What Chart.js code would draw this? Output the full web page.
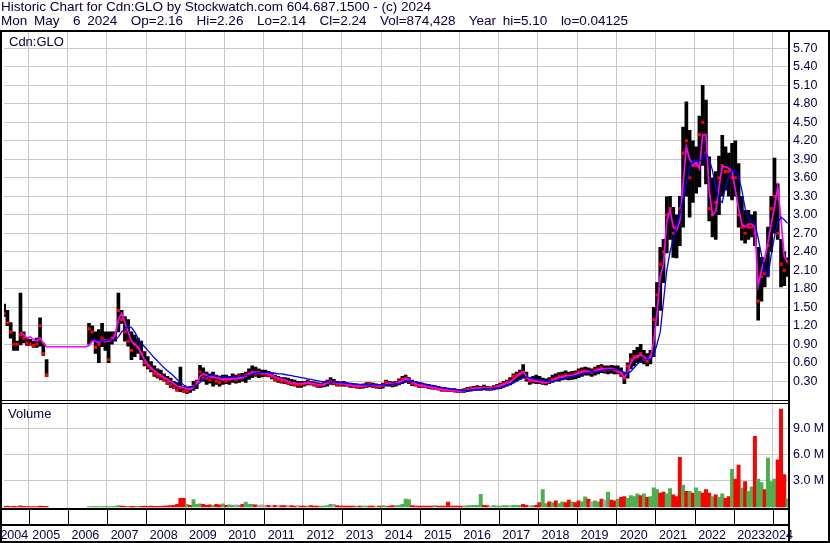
<!DOCTYPE html>
<html><head><meta charset="utf-8">
<script src="https://cdn.jsdelivr.net/npm/chart.js@4.4.1/dist/chart.umd.min.js"></script>
<style>
html,body{margin:0;padding:0;background:#fff;}
#wrap{position:relative;width:830px;height:543px;overflow:hidden;background:#fff;}
canvas{position:absolute;left:0;top:0;}
.t{position:absolute;font-family:"Liberation Sans",Arial,sans-serif;color:#000040;white-space:pre;}
.hdr{left:1px;font-size:13.5px;line-height:14px;}
#h2{word-spacing:3px;}
.lbl{font-size:13px;line-height:15px;}
</style></head><body>
<div id="wrap">
<canvas id="c" width="830" height="543"></canvas>
<div id="h1" class="t hdr" style="top:0px">Historic Chart for Cdn:GLO by Stockwatch.com 604.687.1500 - (c) 2024</div>
<div id="h2" class="t hdr" style="top:14px">Mon May&#160; 6 2024&#160; Op=2.16&#160; Hi=2.26&#160; Lo=2.14&#160; Cl=2.24&#160; Vol=874,428&#160; Year hi=5.10&#160; lo=0.04125</div>
<div class="t lbl" style="left:9px;top:34px">Cdn:GLO</div>
<div class="t lbl" style="left:8px;top:406px">Volume</div>
</div>
<script>
// ---- data (monthly, May 2004 .. May 2024) ----
const yearFirst = 2004, monthFirst = 5;
const yearLabels = ['2004','2005','2006','2007','2008','2009','2010','2011','2012','2013','2014','2015','2016','2017','2018','2019','2020','2021','2022','2023','2024'];
const priceTicks = [0.3,0.6,0.9,1.2,1.5,1.8,2.1,2.4,2.7,3.0,3.3,3.6,3.9,4.2,4.5,4.8,5.1,5.4,5.7];
const volumeTicks = [3,6,9]; // millions

const priceLow = [
 1.35,1.2,1.0,0.8,0.8,0.89,0.92,0.88,
 0.88,0.85,0.85,0.87,0.72,0.38,null,null,null,null,null,null,
 null,null,null,null,null,null,0.9,0.95,0.75,0.6,0.86,0.8,
 0.6,0.9,0.95,1.1,1.24,0.95,0.87,0.65,0.7,0.75,0.65,0.55,
 0.5,0.45,0.38,0.35,0.32,0.3,0.25,0.2,0.18,0.14,0.13,0.12,
 0.1,0.12,0.15,0.18,0.3,0.3,0.25,0.27,0.22,0.25,0.22,0.25,
 0.26,0.25,0.28,0.27,0.28,0.3,0.28,0.33,0.36,0.38,0.36,0.37,
 0.38,0.37,0.34,0.3,0.28,0.27,0.26,0.25,0.23,0.22,0.2,0.2,
 0.22,0.24,0.24,0.22,0.2,0.2,0.21,0.22,0.25,0.24,0.22,0.22,
 0.22,0.22,0.2,0.2,0.19,0.18,0.19,0.2,0.21,0.2,0.19,0.18,
 0.19,0.22,0.22,0.21,0.22,0.24,0.26,0.28,0.26,0.23,0.22,0.2,
 0.2,0.2,0.18,0.17,0.17,0.16,0.14,0.14,0.13,0.13,0.13,0.12,
 0.12,0.12,0.13,0.14,0.15,0.15,0.15,0.16,0.15,0.15,0.16,0.17,
 0.18,0.2,0.22,0.24,0.28,0.3,0.33,0.35,0.3,0.25,0.27,0.26,
 0.26,0.25,0.24,0.26,0.28,0.3,0.3,0.32,0.33,0.32,0.33,0.34,
 0.36,0.38,0.4,0.4,0.38,0.4,0.42,0.44,0.43,0.42,0.43,0.42,
 0.42,0.38,0.26,0.35,0.5,0.55,0.6,0.6,0.58,0.55,0.58,0.7,
 1.2,1.45,1.9,2.38,2.6,2.31,2.3,2.5,2.8,3.3,2.96,3.2,
 3.35,3.45,3.8,3.5,2.9,2.64,2.6,3.0,3.3,3.4,3.3,3.24,
 3.3,2.8,2.59,2.54,2.6,2.64,2.5,1.29,1.6,1.83,2.0,2.4,
 2.7,2.6,1.83,1.85,2.0
];
const priceHigh = [
 1.55,1.45,1.25,1.1,0.95,1.73,1.1,1.0,
 0.98,0.95,1.0,1.33,0.92,0.65,null,null,null,null,null,null,
 null,null,null,null,null,null,1.24,1.2,1.1,1.14,1.24,1.1,
 1.1,1.1,1.1,1.73,1.45,1.35,1.3,1.1,1.05,1.0,0.95,0.78,
 0.7,0.62,0.55,0.5,0.48,0.42,0.38,0.35,0.3,0.28,0.53,0.22,
 0.2,0.22,0.3,0.32,0.56,0.52,0.45,0.42,0.45,0.4,0.36,0.4,
 0.4,0.38,0.42,0.4,0.42,0.43,0.45,0.5,0.55,0.53,0.5,0.48,
 0.48,0.46,0.44,0.4,0.38,0.36,0.36,0.35,0.33,0.32,0.3,0.3,
 0.3,0.32,0.3,0.29,0.28,0.27,0.3,0.32,0.36,0.33,0.3,0.29,
 0.3,0.28,0.27,0.26,0.26,0.25,0.26,0.28,0.28,0.27,0.26,0.25,
 0.27,0.32,0.3,0.29,0.3,0.34,0.38,0.4,0.36,0.32,0.3,0.28,
 0.27,0.26,0.25,0.24,0.23,0.22,0.2,0.2,0.19,0.18,0.18,0.17,
 0.17,0.18,0.2,0.21,0.22,0.23,0.22,0.24,0.22,0.21,0.23,0.25,
 0.27,0.3,0.32,0.36,0.42,0.45,0.48,0.57,0.45,0.36,0.38,0.4,
 0.38,0.35,0.34,0.36,0.4,0.42,0.44,0.45,0.47,0.45,0.46,0.47,
 0.5,0.52,0.53,0.52,0.5,0.53,0.56,0.57,0.55,0.55,0.56,0.55,
 0.55,0.52,0.45,0.6,0.75,0.8,0.85,0.9,0.8,0.75,0.8,1.5,
 1.9,2.47,2.6,3.29,3.3,3.12,3.0,3.3,4.42,4.83,4.37,4.2,
 4.1,4.6,5.1,4.86,3.94,3.6,3.7,3.95,4.29,4.1,4.0,4.16,
 4.2,3.83,3.3,3.07,3.07,3.0,3.05,2.47,2.31,2.3,2.8,3.3,
 3.92,3.5,2.6,2.4,2.3
];
const priceClose = [
 1.4,1.25,1.1,0.9,0.9,1.05,1.0,0.92,
 0.9,0.88,0.9,1.2,0.75,0.4,null,null,null,null,null,null,
 null,null,null,null,null,null,1.15,1.1,0.85,0.9,1.0,0.95,
 0.65,1.0,1.05,1.45,1.3,1.1,0.95,0.8,0.9,0.85,0.75,0.6,
 0.55,0.5,0.42,0.4,0.38,0.33,0.28,0.24,0.2,0.16,0.2,0.14,
 0.14,0.18,0.22,0.28,0.45,0.35,0.35,0.32,0.38,0.3,0.28,0.33,
 0.3,0.33,0.35,0.32,0.38,0.36,0.4,0.42,0.45,0.42,0.44,0.42,
 0.42,0.4,0.38,0.33,0.32,0.3,0.3,0.28,0.26,0.25,0.24,0.25,
 0.26,0.28,0.26,0.25,0.23,0.24,0.25,0.28,0.3,0.27,0.25,0.25,
 0.26,0.24,0.23,0.22,0.22,0.21,0.23,0.24,0.25,0.23,0.22,0.21,
 0.24,0.28,0.26,0.25,0.27,0.3,0.33,0.35,0.3,0.27,0.25,0.23,
 0.23,0.22,0.21,0.2,0.19,0.18,0.16,0.16,0.15,0.15,0.14,0.14,
 0.14,0.15,0.17,0.18,0.18,0.19,0.18,0.2,0.18,0.18,0.2,0.22,
 0.24,0.26,0.28,0.3,0.38,0.4,0.42,0.45,0.35,0.3,0.32,0.3,
 0.3,0.28,0.28,0.3,0.33,0.35,0.38,0.38,0.4,0.38,0.4,0.42,
 0.45,0.46,0.47,0.45,0.44,0.48,0.5,0.52,0.48,0.5,0.5,0.48,
 0.45,0.42,0.35,0.55,0.65,0.7,0.7,0.75,0.65,0.62,0.7,1.3,
 1.7,2.2,2.4,3.0,3.1,2.7,2.8,3.1,4.0,4.2,3.6,3.8,
 3.8,4.3,4.5,4.0,3.1,3.0,3.2,3.6,3.8,3.7,3.7,3.6,
 3.6,3.0,2.8,2.7,2.8,2.8,2.7,1.6,2.0,2.05,2.5,3.1,
 3.3,2.7,2.2,2.1,2.24
];
const maShort = [
 null,null,null,null,null,1.1,1.05,1.0,
 1.02,0.98,0.95,1.0,0.92,0.86,0.86,0.86,0.86,0.86,0.86,0.86,
 0.86,0.86,0.86,0.86,0.86,0.86,0.88,0.95,0.95,0.93,0.95,0.97,
 0.95,0.97,1.05,1.3,1.4,1.25,1.1,0.95,0.9,0.85,0.75,0.65,
 0.58,0.52,0.47,0.43,0.4,0.36,0.33,0.3,0.26,0.22,0.2,0.2,
 0.18,0.17,0.2,0.25,0.38,0.42,0.4,0.37,0.36,0.36,0.34,0.33,
 0.34,0.33,0.34,0.35,0.35,0.36,0.38,0.42,0.45,0.45,0.44,0.43,
 0.43,0.42,0.4,0.37,0.35,0.33,0.32,0.3,0.28,0.27,0.26,0.26,
 0.27,0.27,0.27,0.26,0.25,0.24,0.25,0.27,0.29,0.29,0.27,0.26,
 0.26,0.25,0.24,0.23,0.22,0.22,0.22,0.23,0.24,0.24,0.23,0.22,
 0.23,0.25,0.27,0.26,0.26,0.28,0.31,0.34,0.33,0.29,0.26,0.24,
 0.23,0.22,0.21,0.2,0.19,0.18,0.17,0.16,0.16,0.15,0.15,0.14,
 0.14,0.15,0.16,0.17,0.18,0.19,0.19,0.19,0.19,0.18,0.19,0.21,
 0.23,0.25,0.27,0.29,0.33,0.37,0.42,0.46,0.38,0.32,0.31,0.31,
 0.3,0.29,0.28,0.29,0.32,0.34,0.36,0.37,0.39,0.39,0.39,0.41,
 0.43,0.45,0.46,0.46,0.45,0.46,0.49,0.5,0.5,0.49,0.5,0.49,
 0.47,0.44,0.36,0.45,0.6,0.68,0.7,0.73,0.7,0.65,0.68,0.95,
 1.4,2.0,2.2,2.9,3.07,2.8,2.75,2.9,3.5,4.1,3.9,3.8,
 3.85,3.75,4.3,4.3,3.4,3.0,3.05,3.45,3.78,3.78,3.75,3.7,
 3.4,3.1,2.85,2.8,2.85,2.85,2.8,1.85,2.1,2.3,2.55,2.85,
 3.13,3.45,2.91,2.32,2.24
];
const maLong = [
 null,null,null,null,null,null,null,null,
 null,null,null,null,null,null,null,null,null,null,null,null,
 null,null,null,null,null,null,null,1.0,0.97,0.95,0.95,0.96,
 0.97,0.97,0.97,1.02,1.1,1.15,1.19,1.17,1.1,1.0,0.92,0.86,
 0.8,0.74,0.68,0.63,0.57,0.52,0.47,0.43,0.38,0.33,0.28,0.24,
 0.21,0.2,0.21,0.24,0.28,0.33,0.37,0.4,0.4,0.39,0.38,0.38,
 0.37,0.37,0.37,0.37,0.38,0.38,0.39,0.4,0.42,0.43,0.44,0.44,
 0.44,0.44,0.43,0.43,0.42,0.42,0.41,0.4,0.39,0.38,0.37,0.36,
 0.35,0.34,0.33,0.32,0.31,0.3,0.29,0.29,0.29,0.29,0.28,0.28,
 0.27,0.27,0.26,0.26,0.25,0.25,0.24,0.24,0.24,0.24,0.24,0.24,
 0.24,0.24,0.25,0.25,0.26,0.26,0.27,0.29,0.3,0.3,0.29,0.28,
 0.27,0.25,0.24,0.23,0.22,0.21,0.2,0.19,0.18,0.17,0.17,0.16,
 0.15,0.15,0.15,0.16,0.16,0.17,0.17,0.18,0.18,0.18,0.19,0.19,
 0.2,0.21,0.23,0.25,0.27,0.3,0.33,0.36,0.37,0.36,0.34,0.33,
 0.32,0.31,0.3,0.3,0.3,0.31,0.33,0.34,0.36,0.37,0.38,0.39,
 0.4,0.41,0.43,0.44,0.45,0.45,0.46,0.47,0.48,0.49,0.49,0.49,
 0.49,0.47,0.44,0.43,0.46,0.52,0.58,0.62,0.65,0.66,0.66,0.72,
 0.9,1.1,1.6,2.1,2.4,2.6,2.8,3.0,3.25,3.5,3.75,3.87,
 3.88,3.88,3.9,4.0,3.9,3.72,3.45,3.25,3.2,3.45,3.62,3.72,
 3.72,3.62,3.4,3.1,2.95,2.9,2.86,2.62,2.35,2.1,2.0,2.35,
 2.65,2.88,2.96,2.92,2.86
];
const volume = [ // millions
 0.08,0.1,0.06,0.08,0.06,0.12,0.07,0.06,
 0.06,0.05,0.06,0.1,0.08,0.09,null,null,null,null,null,null,
 null,null,null,null,null,null,0.05,0.06,0.08,0.06,0.05,0.07,
 0.06,0.05,0.07,0.15,0.1,0.08,0.07,0.09,0.06,0.07,0.08,0.1,
 0.08,0.1,0.07,0.09,0.08,0.1,0.12,0.15,0.2,0.3,1.0,1.0,
 0.3,0.2,0.85,0.3,0.35,0.3,0.2,0.25,0.2,0.3,0.25,0.35,
 0.2,0.25,0.2,0.25,0.2,0.3,0.55,0.3,0.3,0.25,0.2,0.25,
 0.2,0.2,0.15,0.2,0.15,0.15,0.15,0.15,0.15,0.1,0.15,0.1,
 0.1,0.1,0.15,0.1,0.1,0.1,0.1,0.15,0.3,0.3,0.15,0.1,
 0.1,0.1,0.1,0.1,0.1,0.1,0.1,0.1,0.1,0.1,0.1,0.1,
 0.15,0.1,0.1,0.15,0.15,0.2,0.3,0.9,0.85,0.15,0.1,0.1,
 0.1,0.1,0.1,0.1,0.15,0.1,0.1,0.1,0.55,0.1,0.1,0.1,
 0.1,0.1,0.15,0.15,0.2,0.2,1.45,0.2,0.15,0.1,0.15,0.1,
 0.1,0.15,0.15,0.15,0.2,0.15,0.2,0.3,0.2,0.15,0.15,0.2,
 0.5,2.0,0.4,0.6,0.5,0.7,0.4,0.6,0.5,0.8,0.6,0.5,
 0.7,0.6,1.15,0.9,0.6,0.7,0.6,0.9,0.8,1.7,0.8,0.7,
 0.9,1.1,1.2,1.0,1.3,1.2,1.5,1.3,1.5,1.1,1.2,2.2,
 2.0,1.6,1.7,1.5,2.1,1.4,1.2,5.7,2.5,1.8,1.8,1.6,
 2.2,1.8,1.6,2.0,1.6,1.2,1.4,1.1,1.5,1.0,1.2,4.3,
 3.2,4.8,2.2,2.9,1.8,2.3,8.1,3.2,2.8,2.0,5.6,2.9,
 3.2,5.4,11.2,3.7,0.9
];
const volumeDir = [ // u = up, d = down, n = unchanged
 'd','d','d','d','d','d','d','d',
 'd','d','d','d','d','d','n','n','n','n','n','n',
 'n','n','n','n','n','n','u','u','u','u','u','u',
 'u','u','u','u','d','d','u','d','d','u','d','d',
 'd','d','d','d','d','d','d','d','d','d','d','d',
 'u','d','u','u','u','d','d','d','u','d','d','u',
 'd','u','u','n','u','d','u','u','u','d','n','n',
 'n','d','n','d','n','d','d','n','d','d','n','d',
 'd','u','d','d','d','u','u','u','u','n','d','d',
 'd','d','d','d','u','d','u','u','d','d','n','d',
 'u','u','d','d','u','u','u','u','u','d','d','d',
 'd','d','d','d','u','d','d','d','d','d','d','d',
 'd','u','u','u','u','u','u','d','d','n','u','u',
 'u','u','u','n','u','u','u','d','d','n','u','d',
 'd','u','u','d','u','d','u','u','d','d','u','d',
 'd','u','u','d','n','u','u','d','n','u','d','d',
 'u','d','d','u','u','u','u','d','u','d','u','u',
 'u','d','d','u','u','d','d','d','u','d','u','d',
 'u','u','d','d','d','u','d','u','u','d','d','u',
 'd','d','u','d','u','u','d','u','u','d','u','u',
 'u','d','d','d','u'
];

// ---- helpers ----
const months = [];
for (let i = 0; i < priceClose.length; i++) {
  const t = monthFirst - 1 + i;
  months.push((yearFirst + Math.floor(t / 12)) + '-' + String(t % 12 + 1).padStart(2, '0'));
}
const monthX = months.map(s => { const p = s.split('-').map(Number); return p[0] + (p[1] - 0.5) / 12; });
const pts = arr => arr.map((v, i) => v == null ? null : {x: monthX[i], y: v}).filter(Boolean);
const rangeData = priceLow.map((l, i) => l == null ? null : {x: monthX[i], y: [l, priceHigh[i]]}).filter(Boolean);
const volIdx = volume.map((v, i) => v == null ? -1 : i).filter(i => i >= 0);
const volData = volIdx.map(i => ({x: monthX[i], y: volume[i]}));
const dirColor = {u: '#4cb050', d: '#ff0000', n: '#a8a8a8'};
const volColors = volIdx.map(i => dirColor[volumeDir[i]]);

const X_MIN = 2004.371, X_MAX = 2024.412;
const FONT = '"Liberation Sans", Arial, sans-serif';
const TXT = '#000040';

const frame = {
  id: 'frame',
  afterDraw(chart) {
    const ctx = chart.ctx, xs = chart.scales.x, ca = chart.chartArea;
    ctx.save();
    ctx.fillStyle = '#000';
    const R = ca.right;
    ctx.fillRect(0, 30, 830, 2);
    ctx.fillRect(0, 30, 2, 513);
    ctx.fillRect(828, 30, 2, 513);
    ctx.fillRect(0, 541, 830, 2);
    ctx.fillRect(R - 1, 30, 2, 513);
    ctx.fillRect(2, 400, R - 3, 1);
    ctx.fillRect(2, 403, R - 3, 1);
    ctx.fillRect(2, 508, R - 3, 2);
    ctx.fillRect(2, 524, R - 3, 2);
    for (let y = 2005; y <= 2024; y++) {
      const px = Math.round(xs.getPixelForValue(y));
      ctx.fillRect(px, 510, 1, 14);
    }
    ctx.font = '12.5px ' + FONT;
    ctx.fillStyle = TXT;
    ctx.textAlign = 'center';
    ctx.textBaseline = 'alphabetic';
    yearLabels.forEach(lbl => {
      const y = Number(lbl);
      const a = xs.getPixelForValue(Math.max(y, X_MIN));
      const b = xs.getPixelForValue(Math.min(y + 1, X_MAX));
      ctx.fillText(lbl, (a + b) / 2 - 2, 539);
    });
    ctx.restore();
  }
};

new Chart(document.getElementById('c'), {
  type: 'bar',
  data: {
    datasets: [
      {type: 'line', label: 'MA long', data: pts(maLong), yAxisID: 'y', borderColor: '#0000ff', borderWidth: 1.3, pointRadius: 0, fill: false},
      {type: 'line', label: 'MA short', data: pts(maShort), yAxisID: 'y', borderColor: '#ff00ff', borderWidth: 1.7, pointRadius: 0, fill: false},
      {type: 'line', label: 'Close', data: pts(priceClose), yAxisID: 'y', showLine: false, pointStyle: 'rect', pointRadius: 2.2, pointBackgroundColor: '#ff0000', pointBorderWidth: 0},
      {type: 'bar', label: 'Range', data: rangeData, yAxisID: 'y', backgroundColor: '#000000', barThickness: 3, grouped: false, borderWidth: 0},
      {type: 'bar', label: 'Volume', data: volData, yAxisID: 'yv', backgroundColor: volColors, barThickness: 3.3, grouped: false, borderWidth: 0}
    ]
  },
  options: {
    responsive: false,
    animation: false,
    events: [],
    layout: {padding: {top: 31, left: 2, right: 0, bottom: 34}},
    plugins: {legend: {display: false}, tooltip: {enabled: false}},
    scales: {
      x: {
        type: 'linear', min: X_MIN, max: X_MAX, offset: false,
        grid: {color: '#c8c8c8', lineWidth: 1, drawTicks: false, offset: false},
        border: {display: false},
        ticks: {display: false, autoSkip: false},
        afterBuildTicks: s => { s.ticks = yearLabels.slice(1).map(v => ({value: Number(v)})); },
        afterFit: s => { s.height = 0; }
      },
      y: {
        type: 'linear', position: 'right', stack: 'panels', stackWeight: 370.5,
        min: -0.028, max: 5.98,
        grid: {color: '#c8c8c8', lineWidth: 1, drawTicks: false},
        border: {display: false},
        ticks: {padding: 4, color: TXT, autoSkip: false, font: {family: FONT, size: 12.5}, callback: v => Number(v).toFixed(2)},
        afterBuildTicks: s => { s.ticks = priceTicks.map(v => ({value: v})); },
        afterFit: s => { s.width = 41; }
      },
      yv: {
        type: 'linear', position: 'right', stack: 'panels', stackWeight: 107.5,
        min: -0.23, max: 12.08,
        grid: {color: '#c8c8c8', lineWidth: 1, drawTicks: false},
        border: {display: false},
        ticks: {padding: 4, color: TXT, autoSkip: false, font: {family: FONT, size: 12.5}, callback: v => Number(v).toFixed(1) + ' M'},
        afterBuildTicks: s => { s.ticks = volumeTicks.map(v => ({value: v})); },
        afterFit: s => { s.width = 41; }
      }
    }
  },
  plugins: [frame]
});
</script>
</body></html>
